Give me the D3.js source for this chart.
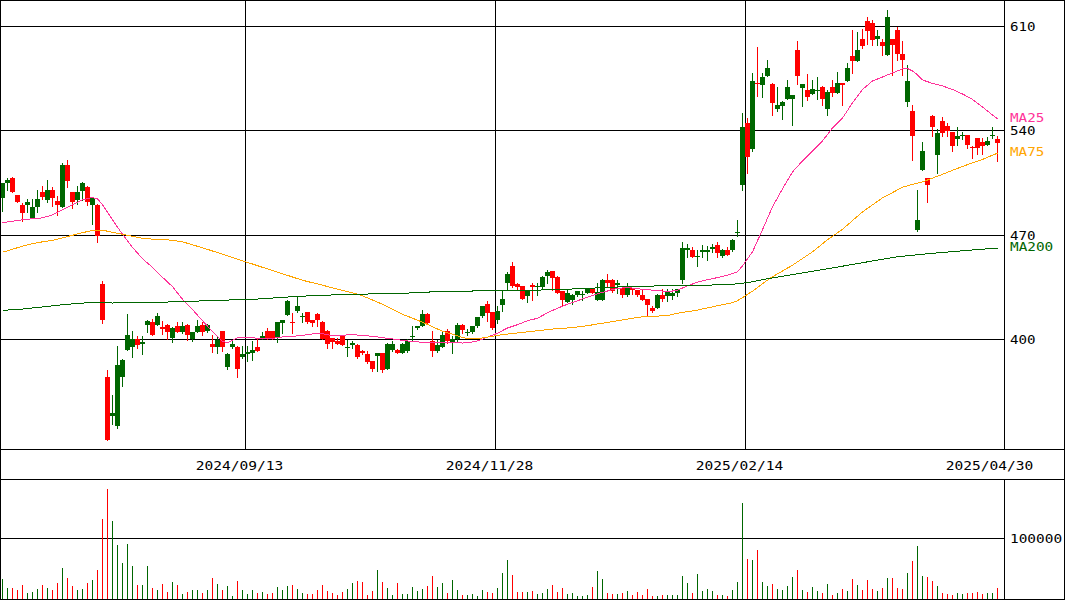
<!DOCTYPE html>
<html><head><meta charset="utf-8">
<script src="https://cdn.jsdelivr.net/npm/d3@7"></script>
<style>
body{margin:0;background:#fff}
svg{display:block}
text{font-family:"DejaVu Sans Mono","Liberation Mono",monospace;font-size:13px}
</style>
</head><body>
<svg id="chart" width="1065" height="600"></svg>
<script>
const opens=[494.3,504.6,508.1,496.7,490.0,489.6,481.3,488.5,498.3,493.4,500.1,492.7,488.5,517.0,498.3,493.4,499.4,502.3,490.0,490.0,
437.1,374.5,348.1,341.9,374.3,392.4,394.4,400.0,396.7,409.1,411.1,409.1,407.8,409.6,400.4,408.9,404.7,409.6,400.2,404.7,
409.6,405.1,396.9,394.4,405.1,381.2,394.4,394.6,387.7,389.9,390.6,394.4,400.0,405.1,405.1,400.7,410.7,416.3,411.6,418.5,
414.8,418.1,412.9,417.0,411.6,405.6,400.7,398.4,401.8,394.0,396.2,396.2,392.2,390.2,385.0,388.4,390.6,380.1,392.4,392.8,
390.6,391.7,401.4,407.1,408.9,417.0,398.4,391.7,394.6,405.1,397.7,400.0,409.6,404.2,404.4,408.5,415.2,423.7,417.8,412.9,
422.5,437.5,449.1,437.1,435.3,428.6,435.9,435.3,434.6,442.6,445.3,441.9,431.9,424.8,426.4,429.2,429.7,430.8,433.7,426.4,
426.4,439.8,439.8,436.4,434.2,429.2,434.2,433.0,429.7,426.8,420.8,420.8,429.7,429.0,429.0,430.8,439.3,459.9,459.9,455.0,
458.7,458.7,460.5,463.2,455.4,459.9,459.4,471.5,503.6,544.8,527.6,572.0,570.5,576.5,571.1,554.4,556.4,561.1,561.1,593.9,
568.6,567.1,564.4,566.6,569.3,554.6,568.9,565.3,571.6,573.3,589.9,586.7,601.1,613.4,612.2,601.3,599.5,590.6,601.3,607.3,
591.2,559.3,553.0,472.8,513.5,507.9,549.7,523.5,546.3,543.2,538.8,534.1,536.5,536.9,529.1,534.7,532.4,530.2,536.3,534.1];
const highs=[505.0,508.1,509.0,496.7,491.2,494.0,494.0,500.1,502.8,506.8,502.1,496.0,518.4,520.2,498.9,502.8,505.5,502.8,495.0,490.5,
439.1,379.0,362.7,395.0,386.5,417.0,405.6,402.2,402.2,412.9,413.4,417.4,411.8,410.0,407.8,411.4,411.4,410.0,405.0,412.9,
411.4,409.8,402.9,401.8,405.5,390.5,399.5,395.0,395.0,395.0,398.4,400.7,404.7,407.4,405.3,411.3,413.0,426.0,417.4,428.2,
417.4,418.3,413.0,417.2,411.8,405.8,401.0,400.7,402.0,399.5,398.4,396.4,392.4,391.7,385.2,390.8,390.8,397.0,398.4,393.0,
397.3,400.0,408.9,409.0,419.7,417.2,405.1,399.5,404.4,406.7,401.8,410.7,409.8,406.7,409.0,415.0,422.0,425.2,418.0,421.9,
431.9,444.7,451.6,437.3,435.5,432.6,437.5,437.5,442.0,446.0,445.5,442.0,432.0,433.7,429.9,432.0,431.9,433.7,433.9,437.5,
440.0,443.8,440.0,439.3,434.4,437.5,434.4,433.2,433.5,427.0,421.9,429.9,433.5,433.5,433.5,433.7,465.0,463.9,461.7,459.9,
463.2,462.1,463.9,465.4,460.1,461.7,467.2,480.0,551.9,548.1,578.3,596.1,578.3,587.2,572.0,569.3,559.5,573.8,564.0,600.2,
571.3,577.6,573.8,575.6,569.5,567.1,573.8,579.4,571.8,585.4,607.3,606.2,607.8,616.2,614.0,607.3,601.1,620.7,601.5,609.5,
600.2,583.9,557.0,500.1,532.1,508.1,550.0,540.8,548.8,544.8,539.0,542.5,538.8,537.1,529.3,534.9,535.1,535.8,542.5,536.3];
const lows=[486.0,500.1,498.3,491.6,479.5,485.5,481.3,485.5,493.8,492.2,489.4,483.3,488.5,502.3,488.2,490.7,493.4,490.0,477.3,464.8,
410.5,332.0,343.3,340.4,368.2,392.4,387.7,394.0,389.9,404.4,402.4,409.1,403.6,400.0,397.7,404.5,404.0,399.5,398.4,404.5,
402.4,405.0,391.0,390.6,391.7,380.1,394.0,374.3,387.5,385.5,386.1,392.0,399.8,399.8,399.8,397.7,404.0,416.0,404.0,418.3,
411.1,411.0,408.5,408.5,400.0,394.0,394.2,396.5,396.0,388.4,394.0,387.5,390.2,384.0,378.3,378.3,377.6,380.0,392.2,390.4,
390.4,391.5,399.5,407.0,408.7,410.5,388.4,391.5,394.4,397.3,390.6,397.7,404.0,402.9,404.2,408.3,415.0,412.3,407.0,410.7,
418.5,433.5,435.0,433.0,426.8,424.5,426.4,429.7,434.4,437.5,433.0,430.6,423.0,424.6,423.5,429.0,426.4,430.6,430.6,426.2,
426.2,435.3,431.7,430.8,428.4,429.0,430.2,429.0,426.2,415.2,418.1,420.6,425.2,425.2,426.8,428.6,437.5,454.9,454.7,448.7,
454.9,453.2,458.3,454.9,455.2,456.3,459.2,468.8,500.1,511.7,526.2,563.1,562.6,576.3,550.3,553.2,547.7,561.0,543.6,571.1,
556.4,560.4,564.2,561.1,557.0,550.3,563.1,565.0,557.0,573.0,578.7,586.5,595.5,597.7,597.3,597.3,590.6,590.4,577.2,587.2,
577.2,556.4,520.2,472.6,513.3,492.2,536.3,511.7,536.5,536.5,525.8,530.2,534.1,528.0,521.7,524.2,524.2,530.0,534.7,519.7];
const closes=[505.0,506.8,498.3,492.2,484.5,492.2,488.7,494.0,495.6,500.1,494.3,489.6,517.0,506.3,492.0,498.9,505.0,491.6,494.9,468.8,
412.5,332.0,350.4,382.8,386.1,402.9,400.0,395.7,398.2,411.8,402.4,415.2,406.9,404.4,407.4,404.7,408.9,402.4,404.7,408.9,
404.7,409.6,394.4,399.5,394.4,390.2,396.9,380.1,390.2,391.0,392.8,392.2,402.2,400.0,400.0,411.1,412.9,425.7,410.5,421.9,
415.2,411.1,410.5,412.9,400.2,396.7,398.2,396.7,396.2,394.6,397.3,387.7,390.4,384.3,380.1,390.6,379.4,396.9,396.9,390.6,
396.9,398.4,402.2,408.9,417.0,410.7,392.2,396.2,402.9,398.4,400.0,409.6,406.3,404.7,408.9,414.8,421.9,417.4,407.1,419.0,
427.0,443.8,435.3,434.9,427.0,432.4,434.6,435.7,441.9,444.9,440.9,430.8,426.4,430.8,429.7,431.9,430.2,433.5,430.8,431.5,
439.8,437.5,431.9,437.9,429.2,434.2,432.6,429.2,426.4,422.5,419.0,429.7,427.0,431.9,430.8,433.5,461.0,461.0,454.9,455.4,
459.9,459.9,461.7,457.6,459.9,456.5,466.1,471.9,542.5,522.4,573.1,570.9,576.0,582.0,558.6,557.0,559.3,569.3,563.8,576.5,
571.1,562.6,567.6,567.1,561.1,565.8,564.9,571.6,570.5,581.6,586.7,593.9,596.8,606.6,600.6,603.3,596.8,616.2,597.3,591.2,
587.2,573.1,536.3,480.0,526.2,503.4,542.5,538.1,538.1,539.8,529.8,536.5,536.9,530.2,528.0,528.0,529.8,532.9,536.9,531.8];
const volumes=[33000,18000,18000,15000,23000,10000,11500,16500,23000,18000,
15000,26500,51000,34500,21500,15000,16500,26500,31500,48000,
132000,182000,129000,89000,59500,91000,54500,23000,23000,54500,
18000,15000,25000,11500,28000,23000,8500,11500,15000,15000,
10000,15000,34500,25000,15000,21500,5000,30000,15000,8500,
15000,10000,11500,8500,10000,20000,15000,21500,23000,16500,
10000,8500,8500,15000,23000,13000,10000,6500,11500,16500,
26500,30000,28000,6500,13000,48000,28000,18000,6500,26500,
8500,8500,20000,13000,16500,21500,38000,20000,26500,10000,
31500,15000,6500,6500,8500,5000,15000,11500,10000,18000,
43000,64500,40000,11500,11500,11500,13000,8500,10000,16500,
23000,11500,18000,8500,10000,5000,5000,6500,20000,46000,
33000,10000,8500,8500,10000,13000,6500,11500,6500,16500,
5000,5000,6500,6500,6500,6500,38000,26500,10000,41000,
13000,16500,13000,6500,6500,5000,15000,28000,158500,66000,
64500,81000,28000,21500,25000,16500,15000,21500,36500,48000,
15000,11500,20000,13000,10000,25000,6500,10000,16500,13000,
33000,23000,15000,31500,16500,13000,18000,34500,34500,18000,
16500,43000,63000,87500,38000,36500,30000,21500,10000,8500,
6500,10000,8500,10000,10000,11500,8500,10000,10000,18000];
// moving averages: [candle index, value]
const ma25=[[0,478.0],[4,480.0],[8,481.3],[10,483.3],[12,486.7],[14,490.0],[16,493.4],[18,494.9],[19,494.0],[20,490.0],[21,485.0],
[22,480.0],[23,475.0],[24,470.3],[25,465.9],[26,461.5],[28,453.8],[30,448.1],[32,441.4],[34,435.1],[36,426.7],[38,419.7],[40,412.3],
[42,404.9],[44,398.5],[45,397.5],[46,399.2],[47,400.7],[50,400.7],[54,400.4],[56,401.4],[58,401.8],[60,402.4],[62,403.4],[64,403.6],
[66,402.2],[70,402.9],[72,402.4],[74,401.8],[76,400.9],[78,400.0],[81,398.7],[83,398.0],[89,397.5],[92,397.3],[94,398.0],[95,398.7],
[97,401.2],[99,403.9],[101,407.4],[103,409.6],[105,412.3],[107,413.9],[109,417.6],[111,420.7],[113,423.3],[115,425.7],[117,428.0],
[119,430.4],[121,432.2],[123,433.9],[125,434.6],[127,433.7],[129,433.0],[131,432.6],[133,431.7],[135,432.7],[137,435.7],[139,438.1],
[141,439.8],[143,441.2],[145,442.8],[147,445.1],[148,449.1],[149,453.8],[150,458.5],[151,465.9],[152,473.3],[154,488.7],[156,500.8],
[158,512.1],[160,519.5],[162,526.2],[164,532.9],[166,541.6],[168,548.3],[170,558.4],[172,567.4],[174,573.1],[176,575.8],[178,578.5],
[180,581.2],[181,581.5],[182,579.8],[183,577.2],[184,573.8],[186,571.5],[188,569.8],[190,567.4],[192,564.4],[194,560.7],[196,555.7],
[198,550.3],[199,547.7]];
const ma75=[[0,458.2],[2,460.2],[4,462.3],[6,463.9],[8,465.2],[10,466.2],[12,467.9],[14,469.6],[16,471.3],[18,472.9],[20,473.1],
[22,471.5],[24,470.3],[26,468.9],[28,467.6],[30,467.0],[33,466.6],[36,465.2],[40,461.2],[44,456.9],[48,452.5],[52,448.1],[56,443.8],
[60,439.4],[64,436.1],[67,433.4],[70,431.0],[72,429.0],[76,423.3],[80,416.6],[84,411.3],[88,405.2],[90,403.2],[92,400.9],[94,400.0],
[96,400.7],[98,401.8],[100,402.9],[110,406.7],[113,407.4],[115,408.1],[117,408.9],[119,410.1],[121,411.1],[123,412.3],[125,413.4],
[127,414.5],[129,415.2],[133,415.6],[135,417.3],[139,419.4],[143,422.3],[146,424.3],[147,425.7],[148,427.7],[149,430.0],[150,432.0],
[152,437.1],[154,441.8],[158,449.5],[162,458.5],[165,466.6],[168,473.6],[172,485.3],[176,494.7],[180,501.8],[182,503.8],[184,505.4],
[188,510.5],[192,515.8],[196,520.5],[199,524.7]];
const ma200=[[0,419.2],[4,420.1],[8,421.5],[12,423.0],[16,424.1],[20,424.8],[22,424.1],[24,424.8],[33,424.8],[43,425.9],[51,426.8],
[59,428.6],[67,429.7],[81,430.8],[85,431.5],[94,432.2],[99,432.4],[110,433.0],[115,433.7],[121,434.6],[126,435.3],[145,436.4],
[149,437.8],[153,440.4],[159,443.8],[165,447.1],[172,451.2],[179,455.2],[186,457.5],[192,459.2],[199,461.0]];
const priceTicks=[400,470,540,610];
const volumeTicks=[100000];
const dateIndex=[49,99,149,199];
const dateLabels=["2024/09/13","2024/11/28","2025/02/14","2025/04/30"];
const maNames=["MA25","MA75","MA200"];

const UP="#006600", DOWN="#ff0000";
const maColors=["#ff3399","#ffa500","#006600"];

const svg=d3.select("#chart");
const W=1065,H=600, plotR=1004, pTop=0, pBot=449, vTop=479, vBot=599;
const n=closes.length;
const x=d3.scaleLinear().domain([0,n]).range([0,1000]);
const y=d3.scaleLinear().domain([400,610]).range([339,26]);
const yv=d3.scaleLinear().domain([0,100000]).range([599,538.5]);
const px=v=>Math.round(v);

const gP=svg.append("g").attr("shape-rendering","crispEdges");
// price grid
gP.selectAll("line.h").data(priceTicks).join("line")
  .attr("x1",0).attr("x2",plotR).attr("y1",d=>px(y(d))+0.5).attr("y2",d=>px(y(d))+0.5)
  .attr("stroke","#000");
gP.selectAll("line.v").data(dateIndex.filter(i=>x(i)<990)).join("line")
  .attr("x1",d=>x(d)+0.5).attr("x2",d=>x(d)+0.5).attr("y1",pTop).attr("y2",pBot)
  .attr("stroke","#000");
// volume grid
gP.selectAll("line.vg").data(volumeTicks).join("line")
  .attr("x1",0).attr("x2",plotR).attr("y1",d=>Math.floor(yv(d))+0.5).attr("y2",d=>Math.floor(yv(d))+0.5)
  .attr("stroke","#000");

// candles
const idx=d3.range(n);
const col=i=>closes[i]>=opens[i]?UP:DOWN;
const gC=svg.append("g").attr("shape-rendering","crispEdges");
gC.selectAll("line.wick").data(idx).join("line")
  .attr("x1",i=>x(i)+2.5).attr("x2",i=>x(i)+2.5)
  .attr("y1",i=>px(y(highs[i]))).attr("y2",i=>px(y(lows[i]))+1)
  .attr("stroke",col);
gC.selectAll("rect.body").data(idx).join("rect")
  .attr("x",i=>x(i)).attr("width",5)
  .attr("y",i=>px(y(Math.max(opens[i],closes[i]))))
  .attr("height",i=>Math.max(1,px(y(Math.min(opens[i],closes[i])))-px(y(Math.max(opens[i],closes[i])))))
  .attr("fill",col);
// volume bars
gC.selectAll("rect.vol").data(idx).join("rect")
  .attr("x",i=>x(i)+2).attr("width",1)
  .attr("y",i=>px(yv(volumes[i]))).attr("height",i=>vBot-px(yv(volumes[i])))
  .attr("fill",col);

// moving averages
const line=d3.line().x(d=>x(d[0])+2.5).y(d=>y(d[1]));
[ma25,ma75,ma200].forEach((m,j)=>{
  svg.append("path").attr("d",line(m)).attr("fill","none")
    .attr("stroke",maColors[j]).attr("stroke-width",1).attr("shape-rendering","crispEdges");
});

// frames
const gF=svg.append("g").attr("shape-rendering","crispEdges").attr("stroke","#000").attr("fill","none");
gF.append("line").attr("x1",0).attr("x2",W).attr("y1",0.5).attr("y2",0.5);
gF.append("line").attr("x1",0).attr("x2",W).attr("y1",pBot+0.5).attr("y2",pBot+0.5);
gF.append("line").attr("x1",0).attr("x2",W).attr("y1",vTop+0.5).attr("y2",vTop+0.5);
gF.append("line").attr("x1",0).attr("x2",W).attr("y1",vBot+0.5).attr("y2",vBot+0.5);
gF.append("line").attr("x1",0.5).attr("x2",0.5).attr("y1",0).attr("y2",H);
gF.append("line").attr("x1",W-0.5).attr("x2",W-0.5).attr("y1",0).attr("y2",H);
gF.append("line").attr("x1",plotR+0.5).attr("x2",plotR+0.5).attr("y1",0).attr("y2",pBot);
gF.append("line").attr("x1",plotR+0.5).attr("x2",plotR+0.5).attr("y1",vTop).attr("y2",vBot);

// labels
const CW=8.85;
function label(t,xp,yp,c,anchor){
  svg.append("text").attr("x",xp).attr("y",yp).attr("fill",c||"#000")
    .attr("text-anchor",anchor||"start")
    .attr("textLength",t.length*CW-1).attr("lengthAdjust","spacingAndGlyphs").text(t);
}
priceTicks.forEach(p=>label(String(p),1010,px(y(p))+5));
volumeTicks.forEach(v=>label(String(v),1010,Math.floor(yv(v))+5));
dateIndex.forEach((k,i)=>label(dateLabels[i],x(k)-5.5,470,"#000","middle"));
[ma25,ma75,ma200].forEach((m,j)=>{
  const last=m[m.length-1][1];
  label(maNames[j],1010,px(y(last))-2+5,maColors[j]);
});
</script>
</body></html>
